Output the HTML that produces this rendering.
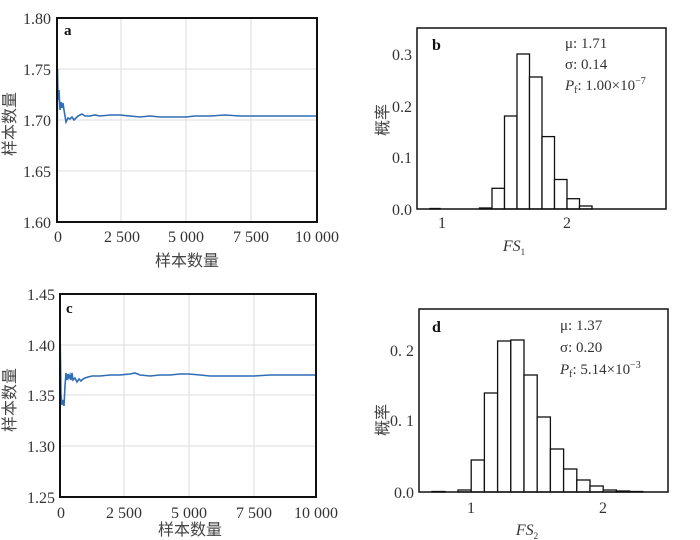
<!DOCTYPE html>
<html><head><meta charset="utf-8"><style>
html,body{margin:0;padding:0;background:#fff;width:700px;height:540px;overflow:hidden}
text{font-family:"Liberation Serif","Noto Serif CJK SC",serif;fill:#333}
.cj{font-family:"Liberation Serif","Noto Sans CJK SC",sans-serif;fill:#444}
</style></head><body>
<svg width="700" height="540" viewBox="0 0 700 540" xmlns="http://www.w3.org/2000/svg">
<!-- Panel a -->
<g stroke="#ddd" stroke-width="1">
<line x1="121" y1="18" x2="121" y2="222"/><line x1="186" y1="18" x2="186" y2="222"/><line x1="251" y1="18" x2="251" y2="222"/>
<line x1="57" y1="69" x2="317" y2="69"/><line x1="57" y1="120" x2="317" y2="120"/><line x1="57" y1="171" x2="317" y2="171"/>
</g>
<polyline fill="none" stroke="#2f6db5" stroke-width="1.6" points="57,210 57.5,69 58,100 59,90 60,110 61,102 62,108 63,103 64,110 65,116 66,122 68,118 70,119 72,117 74,120 76,118 78,116 80,115 82,114 85,116 90,116 95,115 100,116 110,115 120,115 130,116 140,117 150,116 160,117 170,117 180,117 186,117 195,116 210,116 225,115 240,116 260,116 280,116 300,116 317,116"/>
<rect x="57" y="18" width="260" height="204" fill="none" stroke="#111" stroke-width="2"/>
<text x="64" y="35" font-size="15" font-weight="bold" style="fill:#111">a</text>
<g font-size="16" text-anchor="end">
<text x="51" y="24">1.80</text><text x="51" y="75">1.75</text><text x="51" y="126">1.70</text><text x="51" y="177">1.65</text><text x="51" y="228">1.60</text>
</g>
<g font-size="16" text-anchor="middle">
<text x="58" y="242">0</text><text x="122" y="242">2 500</text><text x="186" y="242">5 000</text><text x="251" y="242">7 500</text><text x="317" y="242">10 000</text>
</g>
<text class="cj" x="187" y="266" font-size="16" text-anchor="middle">样本数量</text>
<text class="cj" font-size="16" text-anchor="middle" transform="translate(15,124) rotate(-90)">样本数量</text>

<!-- Panel c -->
<g stroke="#ddd" stroke-width="1">
<line x1="124" y1="294" x2="124" y2="497"/><line x1="189" y1="294" x2="189" y2="497"/><line x1="254" y1="294" x2="254" y2="497"/>
<line x1="60" y1="345" x2="316" y2="345"/><line x1="60" y1="395" x2="316" y2="395"/><line x1="60" y1="446" x2="316" y2="446"/>
</g>
<polyline fill="none" stroke="#2f6db5" stroke-width="1.6" points="60,330 61,395 62,405 63,400 64,406 65,386 66,373 67,380 68,374 69,378 70,375 71,380 72,373 73,380 75,378 77,382 79,379 81,381 83,379 85,378 88,377 92,376 100,376 110,375 120,375 130,374 135,373 140,375 150,376 160,375 170,375 180,374 189,374 200,375 210,376 220,376 230,376 240,376 254,376 270,375 290,375 316,375"/>
<rect x="60" y="294" width="256" height="203" fill="none" stroke="#111" stroke-width="2"/>
<text x="66" y="313" font-size="15" font-weight="bold" style="fill:#111">c</text>
<g font-size="16" text-anchor="end">
<text x="55" y="300">1.45</text><text x="55" y="351">1.40</text><text x="55" y="401">1.35</text><text x="55" y="452">1.30</text><text x="55" y="503">1.25</text>
</g>
<g font-size="16" text-anchor="middle">
<text x="61" y="518">0</text><text x="124" y="518">2 500</text><text x="189" y="518">5 000</text><text x="254" y="518">7 500</text><text x="316" y="518">10 000</text>
</g>
<text class="cj" x="190" y="535" font-size="16" text-anchor="middle">样本数量</text>
<text class="cj" font-size="16" text-anchor="middle" transform="translate(15,400) rotate(-90)">样本数量</text>

<!-- Panel b -->
<g fill="#fff" stroke="#111" stroke-width="1.3">
<rect x="430" y="208.5" width="10" height="0.5"/>
<rect x="479.5" y="208" width="12.5" height="1"/>
<rect x="492" y="188.3" width="12.5" height="20.7"/>
<rect x="504.5" y="116" width="12.5" height="93"/>
<rect x="517" y="54" width="12.5" height="155"/>
<rect x="529.5" y="77" width="12.5" height="132"/>
<rect x="542" y="136.6" width="12.5" height="72.4"/>
<rect x="554.5" y="179.5" width="12.5" height="29.5"/>
<rect x="567" y="198.7" width="12.5" height="10.3"/>
<rect x="579.5" y="206" width="12.5" height="3"/>
</g>
<rect x="417" y="28" width="249" height="181" fill="none" stroke="#111" stroke-width="1.5"/>
<text x="432" y="50" font-size="16" font-weight="bold" style="fill:#111">b</text>
<g font-size="15"><text x="565" y="48">μ: 1.71</text><text x="565" y="69">σ: 0.14</text>
<text x="565" y="90"><tspan font-style="italic">P</tspan><tspan font-size="10" dy="3">f</tspan><tspan dy="-3">: 1.00×10</tspan><tspan font-size="10" dy="-6">−7</tspan></text></g>
<g font-size="16" text-anchor="end">
<text x="412" y="60">0.3</text><text x="412" y="112">0.2</text><text x="412" y="163">0.1</text><text x="412" y="215">0.0</text>
</g>
<g font-size="16" text-anchor="middle"><text x="442" y="228">1</text><text x="567" y="228">2</text></g>
<text x="514" y="251" font-size="16" font-style="italic" text-anchor="middle">FS<tspan font-size="9" dy="4" font-style="normal">1</tspan></text>
<text class="cj" font-size="16" text-anchor="middle" transform="translate(388,120) rotate(-90)">概率</text>

<!-- Panel d -->
<g fill="#fff" stroke="#111" stroke-width="1.3">
<rect x="432" y="491.5" width="13" height="0.5"/>
<rect x="458" y="490" width="13.2" height="2"/>
<rect x="471.2" y="460" width="13.2" height="32"/>
<rect x="484.4" y="393" width="13.2" height="99"/>
<rect x="497.6" y="341" width="13.2" height="151"/>
<rect x="510.8" y="340" width="13.2" height="152"/>
<rect x="524" y="375" width="13.2" height="117"/>
<rect x="537.2" y="417" width="13.2" height="75"/>
<rect x="550.4" y="449" width="13.2" height="43"/>
<rect x="563.6" y="469" width="13.2" height="23"/>
<rect x="576.8" y="480" width="13.2" height="12"/>
<rect x="590" y="486" width="13.2" height="6"/>
<rect x="603.2" y="490" width="13.2" height="2"/>
<rect x="616.4" y="491" width="13.2" height="1"/>
<rect x="629.6" y="491.5" width="13.2" height="0.5"/>
</g>
<rect x="419" y="309" width="249" height="183" fill="none" stroke="#111" stroke-width="1.5"/>
<text x="432" y="332" font-size="16" font-weight="bold" style="fill:#111">d</text>
<g font-size="15"><text x="560" y="330">μ: 1.37</text><text x="560" y="352">σ: 0.20</text>
<text x="560" y="374"><tspan font-style="italic">P</tspan><tspan font-size="10" dy="3">f</tspan><tspan dy="-3">: 5.14×10</tspan><tspan font-size="10" dy="-6">−3</tspan></text></g>
<g font-size="16" text-anchor="end">
<text x="414" y="356">0. 2</text><text x="414" y="426">0. 1</text><text x="414" y="498">0.0</text>
</g>
<g font-size="16" text-anchor="middle"><text x="471" y="513">1</text><text x="603" y="513">2</text></g>
<text x="527" y="535" font-size="16" font-style="italic" text-anchor="middle">FS<tspan font-size="9" dy="4" font-style="normal">2</tspan></text>
<text class="cj" font-size="16" text-anchor="middle" transform="translate(388,420) rotate(-90)">概率</text>
</svg>
</body></html>
